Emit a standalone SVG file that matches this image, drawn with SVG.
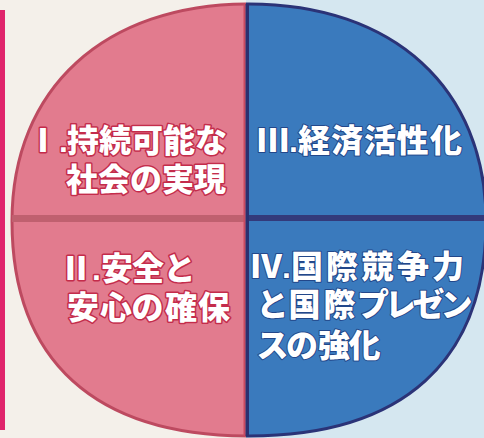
<svg xmlns="http://www.w3.org/2000/svg" width="484" height="438" viewBox="0 0 484 438">
  <defs>
    <path id="disc" d="M12,221 C12,88 105,4 249,4 C393,4 486,88 486,221 C486,360.75 403.05,436 249,436 C94.95,436 12,360.75 12,221 Z"/>
    <clipPath id="leftHalf"><rect x="0" y="0" width="246" height="438"/></clipPath>
    <clipPath id="rightHalf"><rect x="246" y="0" width="238" height="438"/></clipPath>
    <clipPath id="discClip"><use href="#disc"/></clipPath>
    <style>
      .lbl { font-family: "Liberation Sans", "Noto Sans CJK JP", sans-serif; font-weight: 900; font-size: 32px; fill: #ffffff; text-anchor: middle; paint-order: stroke; stroke-linejoin: round; }
      .num { text-anchor: end; }
      .pinkTxt { stroke: #c42c4b; stroke-width: 3px; }
      .blueTxt { stroke: #22478a; stroke-width: 2px; }
    </style>
  </defs>

  <!-- background -->
  <rect x="0" y="0" width="246" height="438" fill="#f4f0ea"/>
  <rect x="246" y="0" width="238" height="438" fill="#d5e7f0"/>
  <rect x="0" y="10" width="5" height="420" fill="#e0246c"/>

  <!-- disc halves -->
  <g id="disc-shape">
    <use href="#disc" fill="#e27b8e" stroke="#bd4a60" stroke-width="3" clip-path="url(#leftHalf)"/>
    <use href="#disc" fill="#3a7abd" stroke="#2b3377" stroke-width="3" clip-path="url(#rightHalf)"/>
    <g clip-path="url(#discClip)">
      <rect x="0" y="215" width="245" height="7" fill="#c0606f"/>
      <rect x="246" y="215" width="238" height="6" fill="#333a7b"/>
      <rect x="243.5" y="0" width="2" height="438" fill="#c84a60"/>
      <rect x="245.5" y="0" width="3.5" height="438" fill="#2a3070"/>
    </g>
  </g>

  <g id="node-1">
    <text class="lbl num pinkTxt" x="68" y="152">Ⅰ.</text>
    <text class="lbl pinkTxt" y="152" x="83 115 147 179 211">持続可能な</text>
    <text class="lbl pinkTxt" y="191" x="82 114 146 178 210">社会の実現</text>
  </g>

  <g id="node-2">
    <text class="lbl num pinkTxt" x="101" y="280">Ⅱ.</text>
    <text class="lbl pinkTxt" y="280" x="117 148 179.5">安全と</text>
    <text class="lbl pinkTxt" y="319" x="83 116 147.5 181 214">安心の確保</text>
  </g>

  <g id="node-3">
    <text class="lbl num blueTxt" x="298" y="152">Ⅲ.</text>
    <text class="lbl blueTxt" y="152" x="314 347 380 412.5 446">経済活性化</text>
  </g>

  <g id="node-4">
    <text class="lbl num blueTxt" x="291" y="278">Ⅳ.</text>
    <text class="lbl blueTxt" y="278" x="307 342 377.5 413 448">国際競争力</text>
    <text class="lbl blueTxt" y="316" x="272.5 304.5 339.5 373 401 428.5 456.5">と国際プレゼン</text>
    <text class="lbl blueTxt" y="357" x="272.5 302 334 364.5">スの強化</text>
  </g>
</svg>
